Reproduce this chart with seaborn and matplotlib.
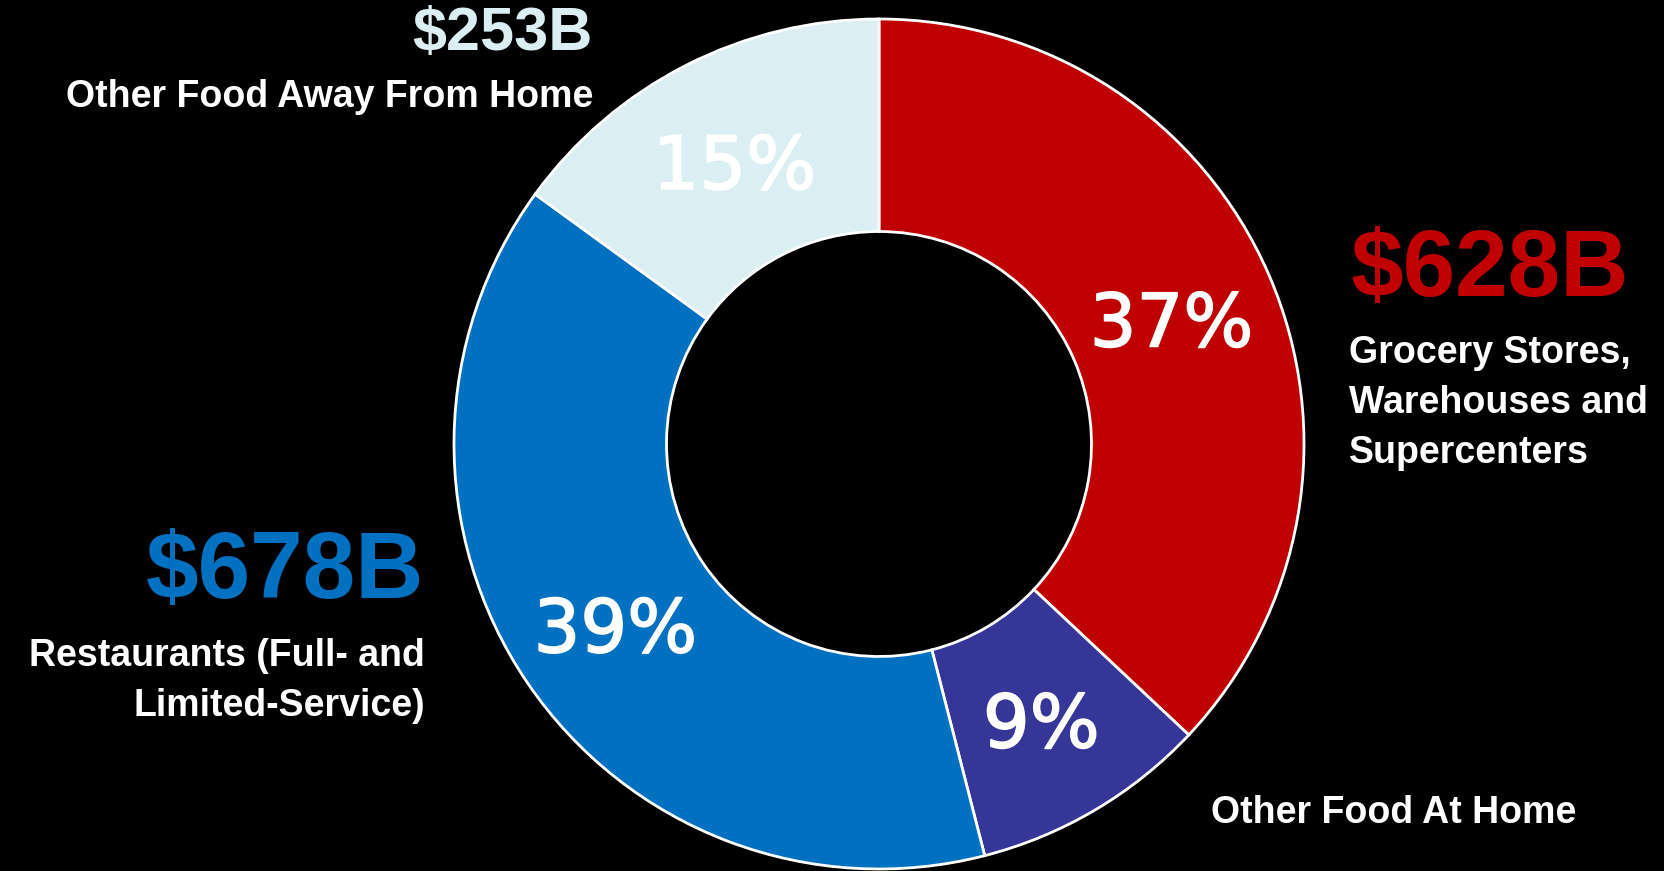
import matplotlib
matplotlib.use('Agg')
import matplotlib.pyplot as plt
import matplotlib.patheffects as pe
import seaborn as sns

# datos del grafico (sentido horario desde las 12)
categorias = ['Grocery Stores,\nWarehouses and\nSupercenters',
              'Other Food At Home',
              'Restaurants (Full- and\nLimited-Service)',
              'Other Food Away From Home']
porcentajes = [37, 9, 39, 15]
montos = ['$628B', '', '$678B', '$253B']
colores = ['#C00000', '#363699', '#0070C0', '#DAEEF3']

sns.set_theme(style='white')
plt.rcParams['font.family'] = ['Liberation Sans', 'DejaVu Sans']

fig = plt.figure(figsize=(16.65, 8.71), dpi=100, facecolor='black')
ax = fig.add_axes([0, 0, 1, 1])
ax.set_facecolor('black')

# escala: 425 px por unidad, centro del anillo en (879, 444) px
esc = 425
cx, cy = 879, 444

def px(x, y):
    return (x - cx) / esc, (cy - y) / esc

wedges, textos, pcts = ax.pie(porcentajes, colors=colores, startangle=90,
                              counterclock=False, radius=1,
                              autopct='%d%%', pctdistance=0.75,
                              wedgeprops=dict(width=0.5, edgecolor='white', linewidth=2),
                              textprops=dict(color='white', fontsize=53,
                                             family='DejaVu Sans'))
for t in pcts:
    x, y = t.get_position()
    t.set_position((x, y - 0.02))
    t.set_path_effects([pe.withStroke(linewidth=1.2, foreground='white')])

ax.set_xlim(-cx / esc, (1665 - cx) / esc)
ax.set_ylim(-(871 - cy) / esc, cy / esc)
ax.set_aspect('auto')
ax.axis('off')

# montos
ax.text(*px(1351, 271), montos[0], color=colores[0], fontsize=68,
        fontweight='bold', ha='left', va='center')
ax.text(*px(424, 573), montos[2], color=colores[2], fontsize=68,
        fontweight='bold', ha='right', va='center')
ax.text(*px(593, 34), montos[3], color=colores[3], fontsize=44,
        fontweight='bold', ha='right', va='center')

# nombres de categorias
ax.text(*px(1349, 403), categorias[0], color='white', fontsize=27,
        fontweight='bold', ha='left', va='center', linespacing=1.5)
ax.text(*px(1211, 813), categorias[1], color='white', fontsize=27,
        fontweight='bold', ha='left', va='center')
ax.text(*px(425, 681), categorias[2], color='white', fontsize=27,
        fontweight='bold', ha='right', va='center', linespacing=1.5)
ax.text(*px(593, 97), categorias[3], color='white', fontsize=27,
        fontweight='bold', ha='right', va='center')

fig.savefig('out.png', dpi=100, facecolor='black')
